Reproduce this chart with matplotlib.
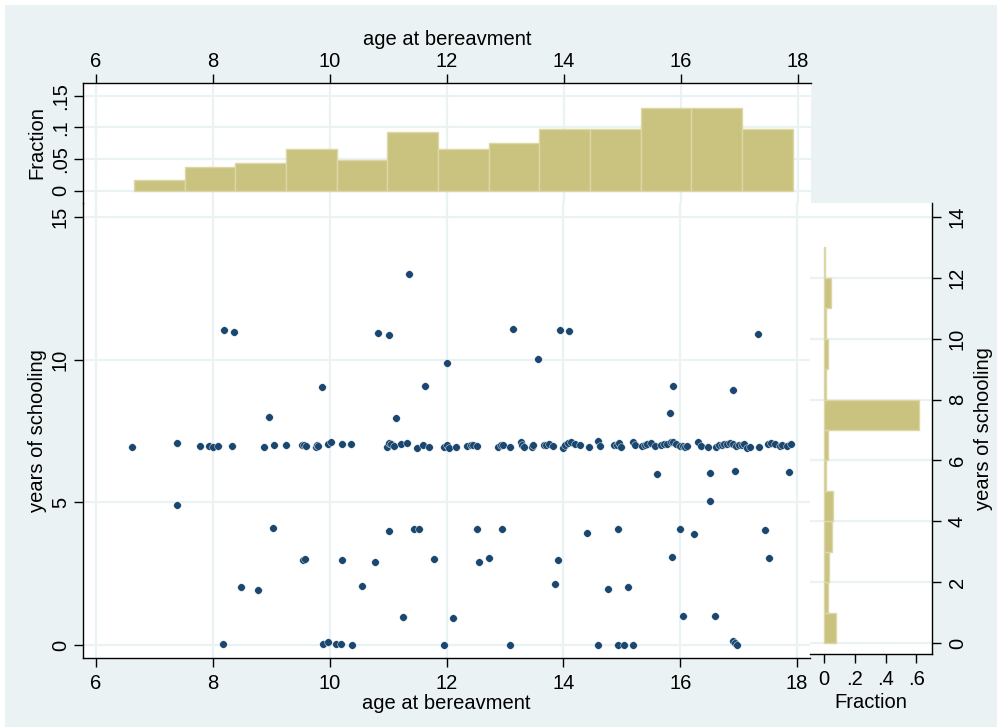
import matplotlib
matplotlib.use("Agg")
import matplotlib.pyplot as plt
from matplotlib.patches import Rectangle

plt.rcParams['font.family'] = ['Liberation Sans', 'DejaVu Sans']

# ---------------- data ----------------
# scatter points: (age at bereavement, years of schooling), jittered as in the original
age_7 = [6.62, 7.38, 7.78, 7.94, 8.0, 8.08, 8.33, 8.88, 9.04, 9.26, 9.52, 9.56, 9.6, 9.76,
         9.78, 9.8, 9.97, 10.02, 10.21, 10.36, 10.98, 11.02, 11.05, 11.1, 11.22, 11.32, 11.5,
         11.6, 11.7, 11.95, 12.01, 12.05, 12.17, 12.35, 12.42, 12.46, 12.52, 12.88, 12.93,
         12.96, 13.08, 13.28, 13.3, 13.32, 13.46, 13.48, 13.66, 13.7, 13.75, 13.82, 13.99,
         14.02, 14.08, 14.13, 14.2, 14.29, 14.44, 14.59, 14.62, 14.87, 14.92, 14.96, 14.98,
         15.2, 15.23, 15.34, 15.4, 15.44, 15.5, 15.57, 15.67, 15.72, 15.78, 15.84, 15.88,
         15.92, 16.0, 16.04, 16.08, 16.12, 16.31, 16.36, 16.48, 16.61, 16.66, 16.71, 16.75,
         16.8, 16.85, 16.9, 16.95, 17.01, 17.05, 17.1, 17.14, 17.19, 17.35, 17.5, 17.55,
         17.62, 17.7, 17.75, 17.83, 17.89]
school_7 = [6.95, 7.09, 6.98, 6.98, 6.95, 6.99, 6.96, 6.94, 7.01, 7.0, 7.0, 7.0, 6.99, 6.93,
            7.02, 6.97, 7.05, 7.1, 7.03, 7.06, 6.94, 7.07, 7.03, 6.97, 7.05, 7.07, 6.92,
            7.02, 6.95, 6.95, 7.0, 6.92, 6.95, 6.96, 7.0, 7.0, 6.98, 6.94, 7.0,
            7.02, 6.94, 7.12, 7.0, 6.95, 6.94, 7.0, 7.02, 7.0, 7.06, 6.98, 6.9,
            7.02, 7.07, 7.1, 7.04, 7.0, 6.95, 7.14, 6.97, 7.0, 7.0, 7.07, 6.95,
            7.1, 7.0, 6.98, 7.02, 7.05, 7.08, 6.96, 7.0, 7.04, 7.06, 7.12, 7.1,
            7.04, 6.96, 6.98, 6.94, 6.97, 7.12, 6.98, 6.93, 6.93, 7.0, 7.02, 7.05,
            7.03, 7.07, 7.03, 6.98, 7.0, 7.02, 7.03, 6.92, 6.94, 6.94, 7.06, 7.07,
            7.06, 6.99, 7.0, 6.99, 7.03]
age_other = [11.35,
             8.19, 8.36, 10.83, 11.01, 13.14, 13.95, 14.1, 17.33,
             12.01, 13.57,
             9.86, 11.63, 15.87, 16.9,
             8.96, 11.13, 15.82,
             15.61, 16.51, 16.94, 17.86,
             7.38, 16.51,
             9.03, 11.02, 11.45, 11.53, 12.52, 12.95, 14.41, 14.94, 16.0, 16.23, 17.46,
             9.54, 9.58, 10.21, 10.78, 11.78, 12.55, 12.72, 13.9, 15.86, 17.52,
             8.48, 8.78, 10.56, 13.86, 14.77, 15.1,
             11.26, 12.11, 16.04, 16.59,
             8.18, 9.88, 9.97, 10.11, 10.19, 10.39, 11.95, 13.08, 14.6, 14.93, 15.04, 15.2,
             16.91, 16.94, 16.97]
school_other = [13.0,
                11.05, 10.96, 10.92, 10.88, 11.08, 11.05, 11.0, 10.9,
                9.88, 10.01,
                9.04, 9.09, 9.08, 8.94,
                7.99, 7.96, 8.12,
                6.01, 6.03, 6.09, 6.05,
                4.91, 5.05,
                4.09, 4.0, 4.05, 4.05, 4.05, 4.07, 3.94, 4.07, 4.08, 3.9, 4.03,
                2.98, 3.02, 2.99, 2.91, 3.03, 2.92, 3.04, 2.99, 3.1, 3.06,
                2.04, 1.94, 2.05, 2.13, 1.95, 2.02,
                0.98, 0.96, 1.03, 1.0,
                0.02, 0.02, 0.12, 0.05, 0.05, 0.0, 0.0, 0.0, 0.0, 0.0, 0.0, 0.0,
                0.14, 0.06, 0.0]

# histogram of age (fraction per bin)
age_bin_start = 6.65
age_bin_width = 0.866
age_fraction = [0.0163, 0.038, 0.0435, 0.0652, 0.0489, 0.0924, 0.0652, 0.076,
                0.0978, 0.0978, 0.1304, 0.1304, 0.0978]

# histogram of schooling (fraction per bin, bins of width 1 from 0)
school_bin_start = 0
school_bin_width = 1
school_fraction = [0.080, 0.023, 0.034, 0.054, 0.059, 0.011, 0.023, 0.617,
                   0.013, 0.023, 0.011, 0.047, 0.005]

age_ticks = [6, 8, 10, 12, 14, 16, 18]
school_ticks_main = [0, 5, 10, 15]
school_ticks_right = [0, 2, 4, 6, 8, 10, 12, 14]
frac_ticks_top = [0, 0.05, 0.1, 0.15]
frac_labels_top = ['0', '.05', '.1', '.15']
frac_ticks_right = [0, 0.2, 0.4, 0.6]
frac_labels_right = ['0', '.2', '.4', '.6']

# ---------------- style ----------------
W, H = 997, 727
BG = '#EAF2F3'
GRID = '#EAF2F3'
NAVY = '#1A476F'
BAR = '#CAC27F'
BAR_EDGE = '#DCD7A6'
FS = 14.5

fig = plt.figure(figsize=(W / 100, H / 100), dpi=100)
fig.patch.set_facecolor('white')
fig.patches.append(Rectangle((5 / W, 0), 1, 1 - 5 / H, transform=fig.transFigure,
                             facecolor=BG, edgecolor='none', zorder=-10))


def fx(px):
    return px / W


def fy(px):
    return 1 - px / H


def style(ax, visible):
    for s in ['left', 'right', 'top', 'bottom']:
        ax.spines[s].set_visible(s in visible)
        ax.spines[s].set_linewidth(1.0)
        ax.spines[s].set_color('black')
    ax.set_facecolor('white')
    ax.tick_params(length=6.5, width=1.0, colors='black', labelsize=FS, pad=4)
    ax.set_axisbelow(True)


# main scatter
ax = fig.add_axes([fx(83), fy(658), fx(810) - fx(83), fy(203) - fy(658)])
style(ax, ['left', 'bottom'])
ax.set_xlim(5.777, 18.222)
ax.set_ylim(-0.456, 15.49)
ax.set_xticks(age_ticks)
ax.set_yticks(school_ticks_main)
ax.tick_params(axis='x', pad=5)
ax.tick_params(axis='y', pad=3)
ax.grid(True, color=GRID, lw=1.6)
ax.scatter(age_7 + age_other, school_7 + school_other, s=30, c=NAVY,
           edgecolors='white', linewidths=0.3, zorder=3)
ax.set_xlabel('age at bereavment', fontsize=FS, labelpad=1)
ax.set_ylabel('years of schooling', fontsize=FS, labelpad=3)
for t in ax.get_yticklabels():
    t.set_rotation(90)
    t.set_va('center')

# top histogram
axt = fig.add_axes([fx(83), fy(203), fx(811) - fx(83), fy(83) - fy(203)])
style(axt, ['left', 'top'])
axt.set_xlim(5.777, 18.222)
axt.set_ylim(-0.0194, 0.17)
axt.xaxis.tick_top()
axt.xaxis.set_label_position('top')
axt.set_xticks(age_ticks)
axt.set_yticks(frac_ticks_top)
axt.set_yticklabels(frac_labels_top)
axt.tick_params(axis='x', pad=2)
axt.tick_params(axis='y', pad=3)
axt.grid(True, color=GRID, lw=1.6)
lefts = [age_bin_start + i * age_bin_width for i in range(len(age_fraction))]
axt.bar(lefts, age_fraction, width=age_bin_width, align='edge', color=BAR,
        edgecolor=BAR_EDGE, linewidth=1.0, zorder=2)
axt.set_xlabel('age at bereavment', fontsize=FS, labelpad=5)
axt.set_ylabel('Fraction', fontsize=FS, labelpad=3)
for t in axt.get_yticklabels():
    t.set_rotation(90)
    t.set_va('center')

# right histogram
axr = fig.add_axes([fx(810), fy(654), fx(932) - fx(810), fy(203) - fy(654)])
style(axr, ['right', 'bottom'])
axr.set_xlim(-0.091, 0.702)
axr.set_ylim(-0.36, 14.46)
axr.yaxis.tick_right()
axr.yaxis.set_label_position('right')
axr.set_xticks(frac_ticks_right)
axr.set_xticklabels(frac_labels_right)
axr.set_yticks(school_ticks_right)
axr.tick_params(axis='x', pad=5)
axr.tick_params(axis='y', pad=5)
axr.grid(True, axis='y', color=GRID, lw=1.6)
bottoms = [school_bin_start + i * school_bin_width for i in range(len(school_fraction))]
axr.barh(bottoms, school_fraction, height=school_bin_width, align='edge', color=BAR,
         edgecolor=BAR_EDGE, linewidth=1.0, zorder=2)
axr.set_xlabel('Fraction', fontsize=FS, labelpad=3)
axr.set_ylabel('years of schooling', fontsize=FS, labelpad=5)
for t in axr.get_yticklabels():
    t.set_rotation(90)
    t.set_va('center')

fig.savefig('out.png', dpi=100, facecolor=fig.get_facecolor())
